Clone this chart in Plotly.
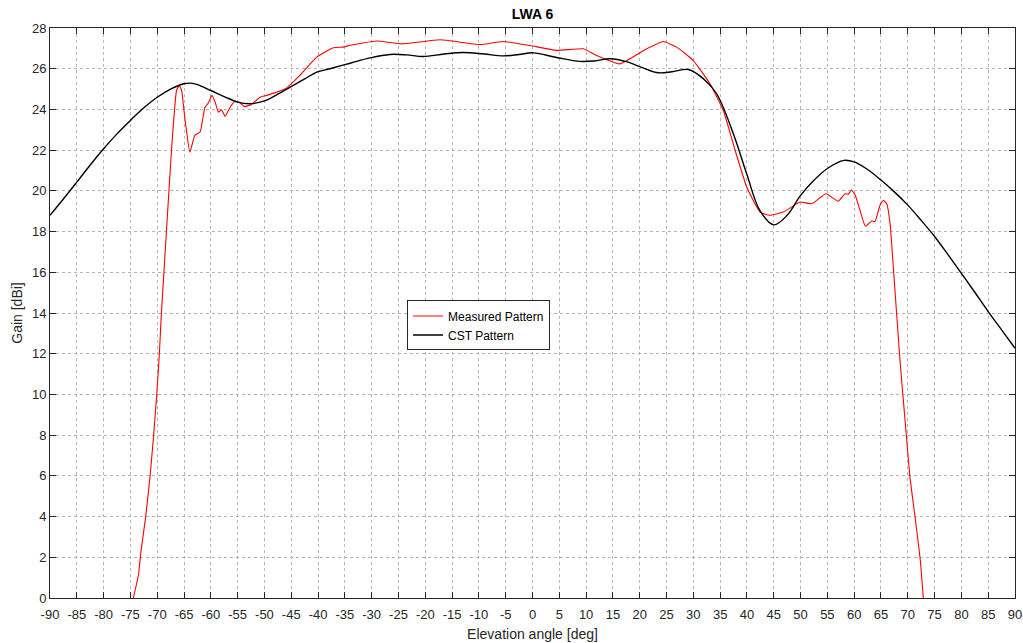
import plotly.graph_objects as go

# CST simulated pattern
cst_angle = [-90, -87.5, -85, -82.5, -80, -77.5, -75, -72.5, -70, -67.5, -65, -63.8,
             -62.5, -60, -57.5, -55, -52.7, -50, -47.5, -45.2, -42.5, -40.25, -37.8,
             -34, -30.3, -26.6, -23.5, -20.4, -16.5, -12.9, -9, -5.4, -2.5, 0.15, 4.5,
             8.86, 11.5, 14.5, 17.5, 20.5, 23.5, 26, 29.07, 31.9, 34.35, 37.46, 39.95,
             42.4, 45, 47.5, 50, 52.5, 55, 58.1, 60, 62.5, 65, 67.5, 70, 72.5, 75,
             77.5, 80, 82.5, 85, 87.5, 90]
cst_gain = [18.8, 19.6, 20.43, 21.27, 22.07, 22.8, 23.46, 24.08, 24.6, 25.0, 25.26, 25.29,
            25.22, 24.93, 24.63, 24.36, 24.28, 24.42, 24.75, 25.1, 25.5, 25.83, 26.0,
            26.27, 26.53, 26.7, 26.68, 26.6, 26.72, 26.8, 26.72, 26.63, 26.7, 26.78, 26.55,
            26.36, 26.38, 26.49, 26.35, 26.05, 25.8, 25.85, 25.96, 25.5, 24.77, 22.81, 20.84,
            19.04, 18.33, 18.8, 19.78, 20.52, 21.1, 21.5, 21.42, 21.05, 20.53, 19.95, 19.3,
            18.55, 17.76, 16.87, 15.95, 15.02, 14.07, 13.17, 12.27]

# Measured pattern
meas_angle = [-74.46, -73.5, -73.08, -72.15, -71.35, -70.7, -70.1, -69.6, -69.2, -68.68,
              -68.24, -67.3, -66.4, -65.9, -65.45, -64.8, -63.9, -63.0, -62.0, -61.1,
              -60.5, -59.8, -59.2, -58.6, -58.0, -57.35, -56.4, -55.5, -54.56, -53.8,
              -52.7, -50.8, -49.6, -47.7, -45.85, -43.4, -40.25, -37.15, -35.3, -34.0,
              -29.06, -24.4, -17.25, -9.8, -5.44, -0.47, 4.5, 9.5, 11.97, 16.3, 21.3,
              24.4, 26.9, 30.0, 33.1, 35.6, 37.8, 39.95, 42.44, 44.2, 46.8, 49.9, 52.1,
              54.75, 57.0, 58.3, 58.9, 59.5, 60.2, 61.1, 62.1, 63.3, 63.9, 64.8, 65.4,
              66.07, 66.7, 67.3, 68.55, 69.7, 70.4, 71.35, 72.3, 72.9]
meas_gain = [0.0, 1.13, 2.19, 4.0, 5.95, 7.9, 9.96, 12.0, 14.1, 16.3,
             18.2, 22.15, 24.93, 25.18, 24.93, 23.46, 21.9, 22.72, 22.89, 24.11,
             24.3, 24.69, 24.36, 23.87, 23.98, 23.66, 24.11, 24.4, 24.33, 24.15,
             24.2, 24.6, 24.69, 24.85, 25.06, 25.67, 26.57, 27.03, 27.06, 27.15,
             27.36, 27.22, 27.42, 27.19, 27.34, 27.14, 26.9, 26.98, 26.65, 26.24, 26.98,
             27.34, 27.06, 26.4, 25.26, 23.95, 21.99, 20.19, 18.96, 18.8, 18.96, 19.45, 19.37,
             19.86, 19.49, 19.86, 19.83, 20.05, 19.78, 19.04, 18.26, 18.52, 18.5, 19.28, 19.53,
             19.37, 18.39, 16.26, 11.67, 8.08, 5.95, 3.99, 1.95, 0.0]

x_ticks = list(range(-90, 91, 5))
y_ticks = list(range(0, 29, 2))

fig = go.Figure()
fig.add_trace(go.Scatter(x=meas_angle, y=meas_gain, mode="lines", name="Measured Pattern",
                         line=dict(color="#ff0000", width=1.1, shape="spline", smoothing=0.4)))
fig.add_trace(go.Scatter(x=cst_angle, y=cst_gain, mode="lines", name="CST Pattern",
                         line=dict(color="#000000", width=1.4, shape="spline", smoothing=1.0)))

axis_common = dict(showline=True, linecolor="#262626", linewidth=1, mirror="ticks",
                   ticks="inside", ticklen=6, tickcolor="#262626",
                   showgrid=True, gridcolor="#b5b5b5", griddash="dot", gridwidth=1,
                   zeroline=False, automargin=False,
                   tickfont=dict(size=13, color="#262626"))

fig.update_xaxes(range=[-90, 90], tickvals=x_ticks, ticktext=[str(v) for v in x_ticks],
                 ticklabelstandoff=4,
                 title=dict(text="Elevation angle [deg]", font=dict(size=14, color="#262626"),
                            standoff=8),
                 **axis_common)
fig.update_yaxes(range=[0, 28], tickvals=y_ticks, ticktext=[str(v) for v in y_ticks],
                 title=dict(text="Gain [dBi]", font=dict(size=14, color="#262626"), standoff=6),
                 **axis_common)

fig.update_layout(
    width=1023, height=643,
    margin=dict(l=50, r=8, t=28, b=45),
    paper_bgcolor="white", plot_bgcolor="white",
    font=dict(family="Liberation Sans, Arial, sans-serif", color="#262626"),
    title=dict(text="<b>LWA 6</b>", x=0.5, xref="paper", xanchor="center",
               y=0.978, yanchor="middle", font=dict(size=14, color="#000000")),
    legend=dict(x=0.37, y=0.522, xanchor="left", yanchor="top",
                bgcolor="white", bordercolor="#262626", borderwidth=1,
                font=dict(size=12, color="#000000"), tracegroupgap=0,
                itemwidth=30),
    showlegend=True,
)

fig.write_html("out.html")
